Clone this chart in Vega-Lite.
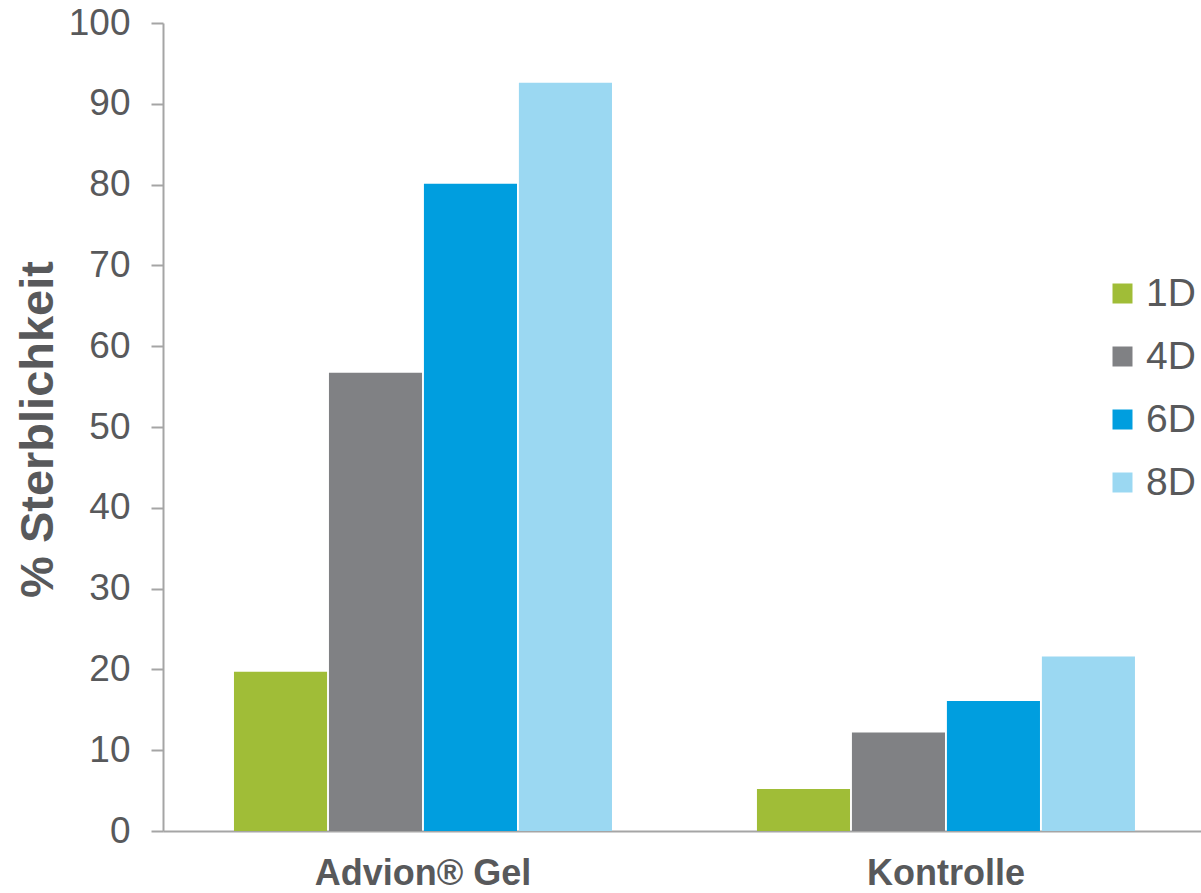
{
  "$schema": "https://vega.github.io/schema/vega-lite/v6.json",
  "width": 1038,
  "height": 808,
  "autosize": {"type": "none"},
  "padding": {"left": 163, "top": 23, "right": 0, "bottom": 62},
  "background": "white",
  "config": {
    "view": {"stroke": null},
    "font": "Liberation Sans"
  },
  "data": {
    "values": [
      {"gruppe": "Advion® Gel", "tag": "1D", "wert": 19.7},
      {"gruppe": "Advion® Gel", "tag": "4D", "wert": 56.7},
      {"gruppe": "Advion® Gel", "tag": "6D", "wert": 80.1},
      {"gruppe": "Advion® Gel", "tag": "8D", "wert": 92.6},
      {"gruppe": "Kontrolle", "tag": "1D", "wert": 5.2},
      {"gruppe": "Kontrolle", "tag": "4D", "wert": 12.2},
      {"gruppe": "Kontrolle", "tag": "6D", "wert": 16.1},
      {"gruppe": "Kontrolle", "tag": "8D", "wert": 21.6}
    ]
  },
  "mark": {"type": "bar"},
  "encoding": {
    "x": {
      "field": "gruppe",
      "type": "nominal",
      "sort": ["Advion® Gel", "Kontrolle"],
      "scale": {"paddingInner": 0.2772, "paddingOuter": 0.131, "align": 0.518},
      "axis": {
        "title": null,
        "labelAngle": 0,
        "labelFontSize": 36,
        "labelFontWeight": "bold",
        "labelColor": "#58595b",
        "labelPadding": 25,
        "labelLimit": 0,
        "ticks": false,
        "domainColor": "#a5a5a5",
        "domainWidth": 2
      }
    },
    "xOffset": {
      "field": "tag",
      "type": "nominal",
      "sort": ["1D", "4D", "6D", "8D"],
      "scale": {"paddingInner": 0.02, "paddingOuter": 0}
    },
    "y": {
      "field": "wert",
      "type": "quantitative",
      "scale": {"domain": [0, 100], "nice": false},
      "axis": {
        "title": "% Sterblichkeit",
        "titleFontSize": 47,
        "titleFontWeight": "bold",
        "titleColor": "#58595b",
        "titleAngle": -90,
        "titleBaseline": "alphabetic",
        "titleX": -111,
        "titleY": 406,
        "titleAlign": "center",
        "values": [0, 10, 20, 30, 40, 50, 60, 70, 80, 90, 100],
        "labelFontSize": 37,
        "labelColor": "#58595b",
        "labelPadding": 21,
        "tickSize": 12,
        "tickColor": "#a5a5a5",
        "tickWidth": 2,
        "domainColor": "#a5a5a5",
        "domainWidth": 2,
        "grid": false
      }
    },
    "color": {
      "field": "tag",
      "type": "nominal",
      "sort": ["1D", "4D", "6D", "8D"],
      "scale": {
        "domain": ["1D", "4D", "6D", "8D"],
        "range": ["#a0bd37", "#808184", "#009edf", "#9bd8f2"]
      },
      "legend": {
        "title": null,
        "orient": "none",
        "legendX": 940,
        "legendY": 251,
        "padding": 0,
        "symbolType": "square",
        "symbolSize": 400,
        "symbolStrokeWidth": 0,
        "labelFontSize": 39,
        "labelColor": "#58595b",
        "labelOffset": 4,
        "rowPadding": 23
      }
    }
  }
}
